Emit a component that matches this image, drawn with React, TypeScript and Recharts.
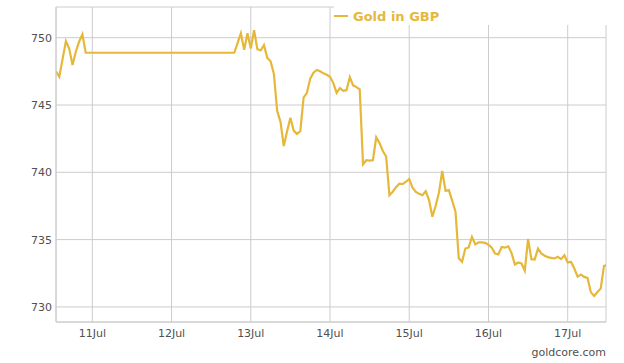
import React from "react";
import { LineChart, Line, XAxis, YAxis, CartesianGrid } from "recharts";

// hours since 0 Jul (00:00), i.e. 264 = 11 Jul 00:00
const hours = [
  253, 254, 256, 257, 258, 259, 260, 261, 262, 307, 308, 309, 310, 311, 312, 313, 314, 315, 316, 317,
  318, 319, 320, 321, 322, 323, 324, 325, 326, 327, 328, 329, 330, 331, 332, 333, 334, 335, 336, 337,
  338, 339, 340, 341, 342, 343, 344, 345, 346, 347, 348, 349, 350, 351, 352, 353, 354, 355, 356, 357,
  358, 359, 360, 361, 362, 363, 364, 365, 366, 367, 368, 369, 370, 371, 372, 373, 374, 375, 376, 377,
  378, 379, 380, 381, 382, 383, 384, 385, 386, 387, 388, 389, 390, 391, 392, 393, 394, 395, 396, 397,
  398, 399, 400, 401, 402, 403, 404, 405, 406, 407, 408, 409, 410, 411, 412, 413, 414, 415, 416, 417,
  418, 419, 420,
];

const goldGBP = [
  747.5, 747.1, 749.75, 749.2, 747.97, 748.96, 749.7, 750.25, 748.88, 748.88, 749.6, 750.33, 749.1, 750.33, 749.2, 750.55, 749.15, 749.05, 749.45, 748.5,
  748.25, 747.3, 744.55, 743.75, 741.95, 743.05, 744.05, 743.1, 742.85, 743.05, 745.55, 745.9, 746.95, 747.4, 747.6, 747.5, 747.35, 747.25, 747.1, 746.63,
  745.9, 746.26, 746.06, 746.1, 747.08, 746.46, 746.33, 746.16, 740.6, 740.9, 740.87, 740.9, 742.6, 742.17, 741.58, 741.17, 738.3, 738.56, 738.9, 739.15,
  739.12, 739.3, 739.5, 738.85, 738.55, 738.4, 738.3, 738.6, 737.93, 736.7, 737.5, 738.5, 740.1, 738.62, 738.68, 737.9, 737.1, 733.62, 733.35, 734.34,
  734.42, 735.2, 734.64, 734.8, 734.8, 734.76, 734.62, 734.4, 733.97, 733.9, 734.45, 734.4, 734.5, 734.0, 733.15, 733.3, 733.23, 732.7, 735.05, 733.55,
  733.52, 734.34, 733.97, 733.8, 733.7, 733.64, 733.6, 733.72, 733.55, 733.84, 733.3, 733.35, 732.85, 732.25, 732.41, 732.23, 732.16, 731.1, 730.81, 731.11,
  731.37, 733.05, 733.1,
];

const xTickDays = [11, 12, 13, 14, 15, 16, 17];
const yTicks = [730, 735, 740, 745, 750];
const seriesName = "Gold in GBP";
const watermark = "goldcore.com";

const data = hours.map((h, i) => ({ h, v: goldGBP[i] }));
const xTicks = xTickDays.map((d) => d * 24);

const GOLD = "#E6B83A";
const GRID = "#cccccc";
const TEXT = "#505050";
const FONT = "'DejaVu Sans', sans-serif";

export default function App() {
  return (
    <div style={{ position: "absolute", left: 0, top: 0, width: 624, height: 363, background: "#fff", fontFamily: FONT }}>
      <LineChart width={624} height={363} data={data} margin={{ top: 7, right: 18, left: 0, bottom: 11 }}>
        <CartesianGrid stroke={GRID} strokeWidth={1} />
        <XAxis
          type="number"
          dataKey="h"
          domain={[253, 419.6]}
          allowDataOverflow
          ticks={xTicks}
          tickFormatter={(v: number) => `${v / 24}Jul`}
          tickLine={false}
          tickSize={5}
          tickMargin={2}
          height={30}
          axisLine={{ stroke: GRID }}
          tick={{ fill: TEXT, fontSize: 11, fontFamily: FONT }}
        />
        <YAxis
          type="number"
          domain={[728.88, 752.28]}
          allowDataOverflow
          ticks={yTicks}
          tickLine={false}
          tickSize={2}
          tickMargin={2}
          width={56}
          axisLine={{ stroke: GRID }}
          tick={{ fill: TEXT, fontSize: 11, fontFamily: FONT }}
        />
        <Line
          type="linear"
          dataKey="v"
          name={seriesName}
          stroke={GOLD}
          strokeWidth={2.2}
          dot={false}
          isAnimationActive={false}
        />
      </LineChart>
      <div
        style={{
          position: "absolute",
          left: 334,
          top: 0,
          width: 276,
          height: 25,
          background: "#fff",
        }}
      >
        <div
          style={{
            position: "absolute",
            left: 0,
            top: 8,
            height: 16,
            display: "flex",
            alignItems: "center",
            fontFamily: FONT,
            fontWeight: 700,
            fontSize: 13,
            color: GOLD,
            whiteSpace: "nowrap",
          }}
        >
          <span style={{ display: "inline-block", width: 14, height: 2, background: GOLD, marginRight: 5 }} />
          <span>{seriesName}</span>
        </div>
      </div>
      <div
        style={{
          position: "absolute",
          right: 18,
          top: 345,
          fontFamily: FONT,
          fontSize: 11,
          color: TEXT,
          lineHeight: "16px",
        }}
      >
        {watermark}
      </div>
    </div>
  );
}
